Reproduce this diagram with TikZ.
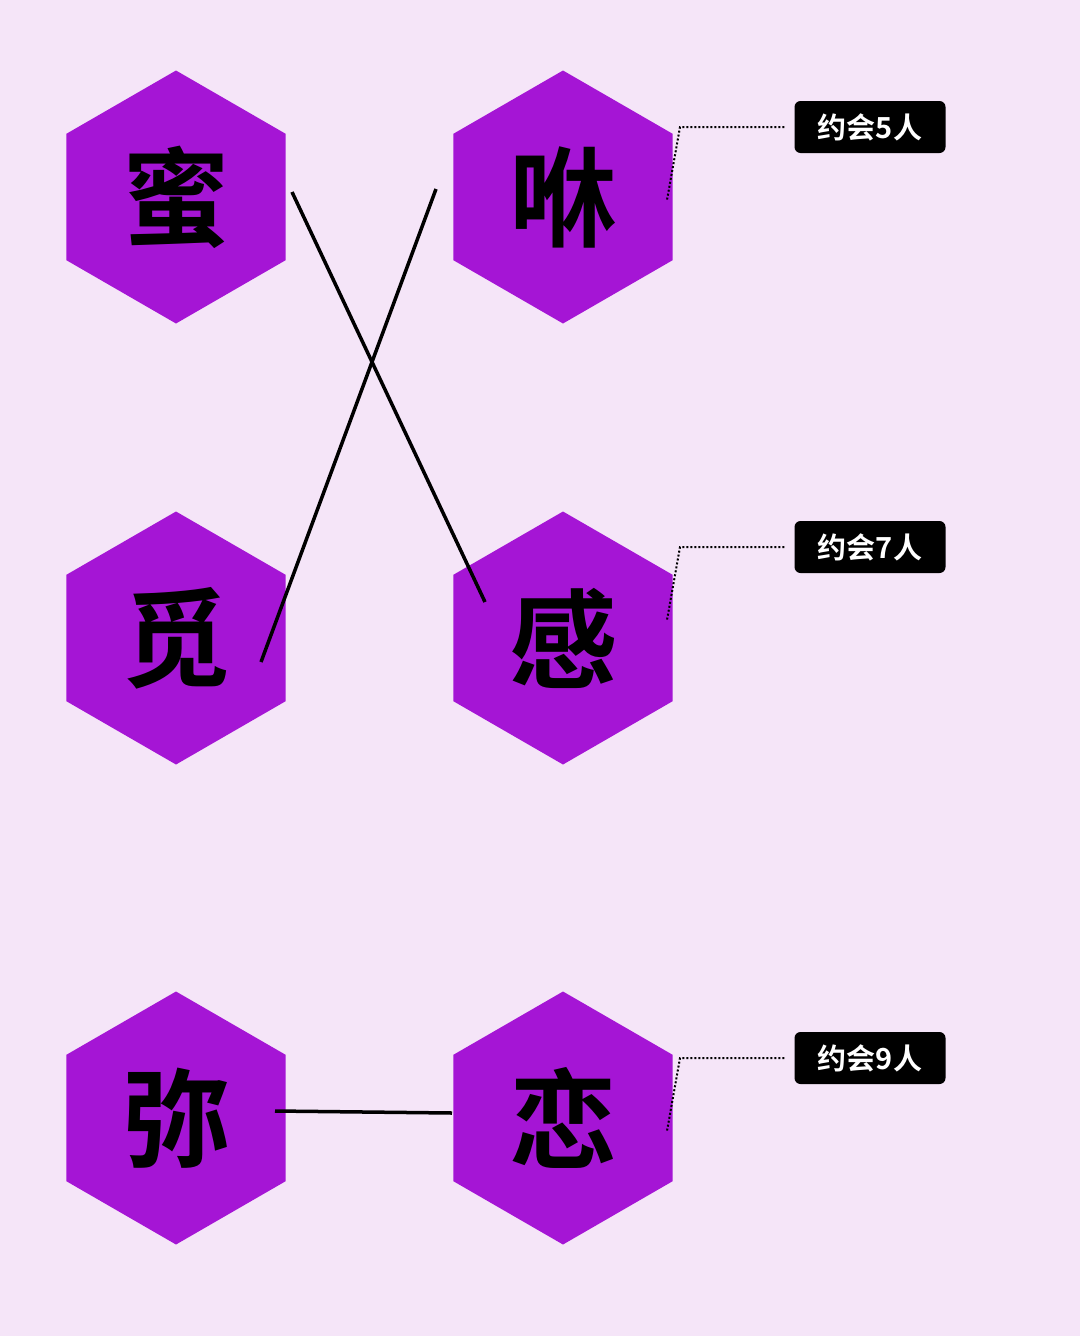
\documentclass[tikz,border=0pt]{standalone}
\usepackage{fontspec}
\newfontfamily\cjk{Noto Sans CJK SC Bold}
\usetikzlibrary{shapes.geometric}
\definecolor{bg}{HTML}{F5E5F8}
\definecolor{hexc}{HTML}{A515D5}
\tikzset{
 hexa/.style={regular polygon, regular polygon sides=6, shape border rotate=30, minimum size=253pt, inner sep=0pt, fill=hexc, font=\cjk\fontsize{108}{110}\selectfont},
 tag/.style={fill=black, rounded corners=6pt, text=white, minimum width=151pt, minimum height=52pt, inner sep=0pt, font=\cjk\fontsize{29}{30}\selectfont},
 link/.style={line width=3.5pt, black},
 dots/.style={dotted, line width=2pt, black}
}
\begin{document}
\begin{tikzpicture}[x=1pt,y=-1pt]
\fill[bg] (0,0) rectangle (1080,1336);
\useasboundingbox (0,0) rectangle (1080,1336);
\node[hexa] (a) at (176,197) {蜜};
\node[hexa] (b) at (563,197) {咻};
\node[hexa] (c) at (176,638) {觅};
\node[hexa] (d) at (563,638) {感};
\node[hexa] (e) at (176,1118) {弥};
\node[hexa] (f) at (563,1118) {恋};
\node[tag] (t1) at (870,127) {约会5人};
\node[tag] (t2) at (870,547) {约会7人};
\node[tag] (t3) at (870,1058) {约会9人};
\coordinate (a1) at (292,192); \coordinate (d1) at (485,602);
\coordinate (b1) at (436,189); \coordinate (c1) at (261,662);
\coordinate (e1) at (275,1111); \coordinate (f1) at (452,1113);
\draw[link] (a1) -- (d1);
\draw[link] (b1) -- (c1);
\draw[link] (e1) -- (f1);
\draw[dots] (t1.west) ++(-10,0) -- (680,127) -- (667,200);
\draw[dots] (t2.west) ++(-10,0) -- (680,547) -- (667,620);
\draw[dots] (t3.west) ++(-10,0) -- (680,1058) -- (667,1131);
\end{tikzpicture}
\end{document}
